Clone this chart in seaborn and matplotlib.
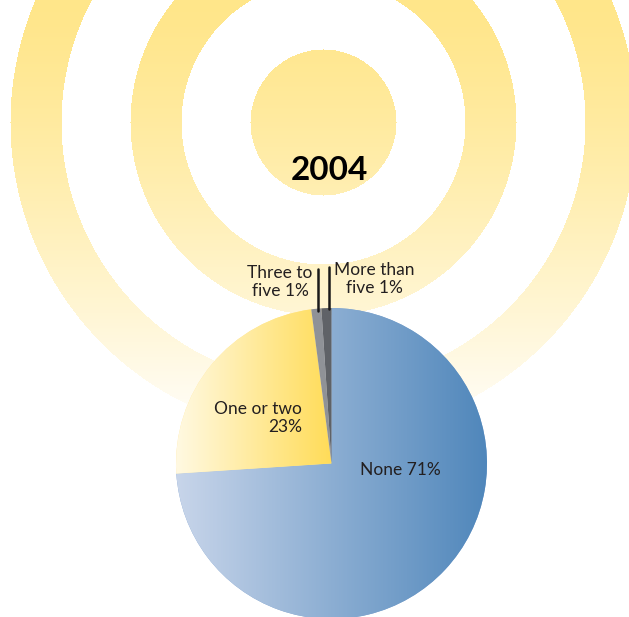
import numpy as np
import matplotlib
matplotlib.use("Agg")
import matplotlib.pyplot as plt
import seaborn as sns
from matplotlib.colors import LinearSegmentedColormap

# data
categories = ["None", "One or two", "Three to five", "More than five"]
values = [71, 23, 1, 1]
pct_labels = ["71%", "23%", "1%", "1%"]
year = "2004"

W, H = 629, 617

sns.set_theme(style="white")
plt.rcParams["font.family"] = ["Lato", "DejaVu Sans"]

fig = plt.figure(figsize=(W / 100, H / 100), dpi=100)
ax = fig.add_axes([0, 0, 1, 1])

# background rings, yellow fading downward (row 0 = top of picture)
yy, xx = np.mgrid[0:H, 0:W]
r = np.hypot(xx - 323, yy - 122)
ring = (r <= 73) | ((r >= 142) & (r <= 193)) | ((r >= 262) & (r <= 313))
t = np.clip(yy / 440.0, 0, 1) ** 1.3
top = np.array(matplotlib.colors.to_rgb("#FFE68A"))
col = top[None, None, :] * (1 - t[..., None]) + t[..., None]
bg = np.ones((H, W, 3))
bg[ring] = col[ring]
ax.imshow(bg, extent=(0, W, 0, H), origin="upper", zorder=0)

# pie
cx, cy, R = 331.5, H - 463.5, 155.5
wedges, _ = ax.pie(values, startangle=90, counterclock=False, center=(cx, cy),
                   radius=R, colors=["#7FA2CF", "#FFE89A", "#8F9297", "#5F6267"],
                   wedgeprops=dict(linewidth=0), frame=True)
ax.set_xlim(0, W)
ax.set_ylim(0, H)
ax.set_aspect("equal")
ax.axis("off")

blue = LinearSegmentedColormap.from_list("b", sns.blend_palette(["#C8D5EA", "#5087BB"], 8))
yel = LinearSegmentedColormap.from_list("y", sns.blend_palette(["#FFF9E2", "#FFDC58"], 8))
grad = np.linspace(0, 1, 256)[None, :]
im = ax.imshow(grad, cmap=blue, extent=(cx - R, cx + R, cy - R, cy + R),
               aspect="auto", zorder=2)
im.set_clip_path(wedges[0])
im2 = ax.imshow(grad, cmap=yel, extent=(cx - R, cx, cy - 20, cy + R),
                aspect="auto", zorder=2)
im2.set_clip_path(wedges[1])
for w in wedges[2:]:
    w.set_zorder(3)
ax.set_xlim(0, W)
ax.set_ylim(0, H)

# leader lines
ax.plot([318.3, 318.3], [H - 311, H - 269], color="#1a1a1a", lw=1.8, zorder=4)
ax.plot([329.0, 329.0], [H - 309, H - 267], color="#1a1a1a", lw=1.8, zorder=4)

tc = "#231F20"
fs = 12.5
ax.text(400, H - 470, f"{categories[0]} {pct_labels[0]}", ha="center", va="center",
        fontsize=fs, color=tc, zorder=5)
ax.text(302, H - 418, f"{categories[1]}\n{pct_labels[1]}", ha="right", va="center",
        fontsize=fs, color=tc, linespacing=1.15, zorder=5)
ax.text(280, H - 282, f"Three to\nfive {pct_labels[2]}", ha="center", va="center",
        fontsize=fs, color=tc, linespacing=1.1, zorder=5)
ax.text(374, H - 279, f"More than\nfive {pct_labels[3]}", ha="center", va="center",
        fontsize=fs, color=tc, linespacing=1.1, zorder=5)
ax.text(329, H - 171, year, ha="center", va="center", fontsize=24,
        fontweight="bold", color="black", zorder=5)

fig.savefig("out.png", dpi=100)
